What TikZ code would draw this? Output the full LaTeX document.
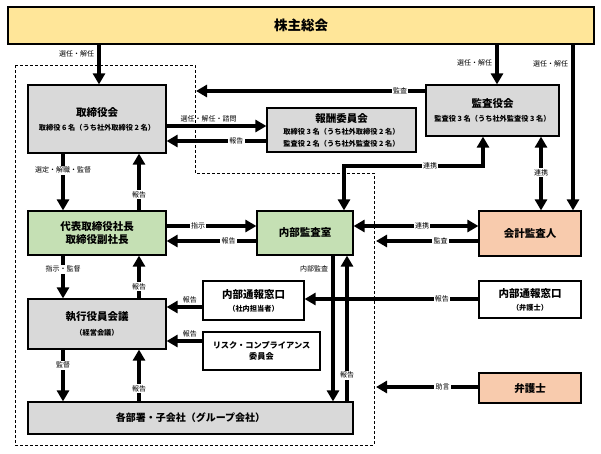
\documentclass[tikz,border=0pt]{standalone}
\usepackage{fontspec}
\setmainfont{Noto Sans CJK JP}
\usetikzlibrary{arrows.meta}
\definecolor{yel}{HTML}{FFE699}
\definecolor{gry}{HTML}{D9D9D9}
\definecolor{grn}{HTML}{C5E0B4}
\definecolor{pch}{HTML}{F8CBAD}
\newcommand{\fT}{\fontsize{10.5}{13}\selectfont\bfseries}
\newcommand{\fS}{\fontsize{7.2}{9.5}\selectfont\bfseries}
\begin{document}
\begin{tikzpicture}[x=1pt,y=-1pt,
 box/.style={draw=black,line width=1.2pt,align=center,inner sep=0pt},
 arr/.style={line width=4pt,-{Triangle[length=11pt,width=12pt]}},
 darr/.style={line width=4pt,{Triangle[length=11pt,width=12pt]}-{Triangle[length=11pt,width=12pt]}},
 lbl/.style={fill=white,inner sep=1.2pt,font=\fontsize{7}{8}\selectfont},
 tlbl/.style={inner sep=1pt,font=\fontsize{7}{8}\selectfont}]
\fill[white] (0,0) rectangle (601,453);
\useasboundingbox (0,0) rectangle (601,453);
% dashed boundary
\draw[line width=0.9pt,dash pattern=on 3pt off 2pt] (15,65) -- (195,65) -- (195,173) -- (374,173) -- (374,445) -- (15,445) -- cycle;
% nodes
\node[box,fill=yel,minimum width=586pt,minimum height=37pt] (sh) at (301,25.5) {\fontsize{13.5}{15}\selectfont\bfseries 株主総会};
\node[box,fill=gry,minimum width=138pt,minimum height=68pt] (tk) at (97,119) {\fT 取締役会\\[2pt]\fS 取締役 6 名（うち社外取締役 2 名）};
\node[box,fill=gry,minimum width=149pt,minimum height=44pt] (hs) at (341.5,130) {\fT 報酬委員会\\\fS 取締役 3 名（うち社外取締役 2 名）\\\fS 監査役 2 名（うち社外監査役 2 名）};
\node[box,fill=gry,minimum width=133pt,minimum height=51pt] (ka) at (492.5,110.5) {\fT 監査役会\\[2pt]\fS 監査役 3 名（うち社外監査役 3 名）};
\node[box,fill=grn,minimum width=138pt,minimum height=44pt,font=\fT] (dh) at (97,233) {代表取締役社長\\取締役副社長};
\node[box,fill=grn,minimum width=96pt,minimum height=44pt] (nb) at (305,233) {\fT 内部監査室};
\node[box,fill=pch,minimum width=102pt,minimum height=45pt] (kk) at (530,233.5) {\fT 会計監査人};
\node[box,fill=gry,minimum width=138pt,minimum height=50pt] (sy) at (97,324) {\fT 執行役員会議\\[3pt]\fS （経営会議）};
\node[box,fill=white,minimum width=101pt,minimum height=39pt] (nt) at (253.5,300.5) {\fT 内部通報窓口\\[1pt]\fS （社内担当者）};
\node[box,fill=white,minimum width=117pt,minimum height=38pt,font={\fontsize{8.2}{11}\selectfont\bfseries}] (rc) at (261.5,351) {リスク・コンプライアンス\\委員会};
\node[box,fill=white,minimum width=102pt,minimum height=37pt] (nl) at (530,299.5) {\fT 内部通報窓口\\[1pt]\fS （弁護士）};
\node[box,fill=pch,minimum width=102pt,minimum height=30pt] (bg) at (530,388) {\fT 弁護士};
\node[box,fill=gry,minimum width=325pt,minimum height=32pt] (kb) at (190.5,418) {\fontsize{10}{12}\selectfont\bfseries 各部署・子会社（グループ会社）};
% helper coordinates
\coordinate (xA) at (63,0);
\coordinate (xB) at (139,0);
\coordinate (xC) at (99,0);
\coordinate (xD) at (497,0);
\coordinate (xE) at (573,0);
\coordinate (xG) at (541,0);
\coordinate (xH) at (333,0);
\coordinate (xI) at (347,0);
\coordinate (y91) at (0,91);
\coordinate (y126) at (0,126);
\coordinate (y141) at (0,141);
\coordinate (y226) at (0,226);
\coordinate (y241) at (0,241);
\coordinate (y299) at (0,299);
\coordinate (y307) at (0,307);
\coordinate (y341) at (0,341);
\coordinate (y387) at (0,387);
\coordinate (bd1) at (196,91);
\coordinate (bd2) at (376,241);
\coordinate (bd3) at (376,387);
\coordinate (j1) at (483,166);
\coordinate (j2) at (344,166);
% connectors
\draw[arr] (sh.south -| xC) -- node[tlbl,pos=0.24,left=2pt]{選任・解任} (tk.north -| xC);
\draw[arr] (sh.south -| xD) -- node[tlbl,pos=0.46,left=2pt]{選任・解任} (ka.north -| xD);
\draw[arr] (sh.south -| xE) -- node[tlbl,pos=0.114,left=2pt]{選任・解任} (kk.north -| xE);
\draw[arr] (ka.west |- y91) -- node[lbl,pos=0.11]{監査} (bd1);
\draw[arr] (tk.east |- y126) -- node[tlbl,pos=0.42,above=1pt]{選任・解任・諮問} (hs.west |- y126);
\draw[arr] (hs.west |- y141) -- node[lbl,pos=0.3]{報告} (tk.east |- y141);
\draw[arr] (tk.south -| xA) -- node[lbl,pos=0.29]{選定・解職・監督} (dh.north -| xA);
\draw[arr] (dh.north -| xB) -- node[lbl,pos=0.28]{報告} (tk.south -| xB);
\draw[arr] (dh.east |- y226) -- node[lbl,pos=0.35]{指示} (nb.west |- y226);
\draw[arr] (nb.west |- y241) -- node[lbl,pos=0.31]{報告} (dh.east |- y241);
\draw[arr] (dh.south -| xA) -- node[lbl,pos=0.32]{指示・監督} (sy.north -| xA);
\draw[arr] (sy.north -| xB) -- node[lbl,pos=0.27]{報告} (dh.south -| xB);
\draw[darr] (ka.south -| j1) -- (j1) -- node[lbl,pos=0.38]{連携} (j2) -- (nb.north -| j2);
\draw[darr] (ka.south -| xG) -- node[lbl,pos=0.49]{連携} (kk.north -| xG);
\draw[darr] (nb.east |- y226) -- node[lbl,pos=0.55]{連携} (kk.west |- y226);
\draw[arr] (kk.west |- y241) -- node[lbl,pos=0.37]{監査} (bd2);
\draw[arr] (nb.south -| xH) -- node[tlbl,pos=0.09,left=2pt]{内部監査} (kb.north -| xH);
\draw[arr] (kb.north -| xI) -- node[lbl,pos=0.18]{報告} (nb.south -| xI);
\draw[arr] (nl.west |- y299) -- node[lbl,pos=0.21]{報告} (nt.east |- y299);
\draw[arr] (nt.west |- y307) -- node[tlbl,pos=0.35,above=1pt]{報告} (sy.east |- y307);
\draw[arr] (rc.west |- y341) -- node[tlbl,pos=0.35,above=1pt]{報告} (sy.east |- y341);
\draw[arr] (sy.south -| xA) -- node[lbl,pos=0.3]{監督} (kb.north -| xA);
\draw[arr] (kb.north -| xB) -- node[lbl,pos=0.25]{報告} (sy.south -| xB);
\draw[arr] (bg.west |- y387) -- node[lbl,pos=0.35]{助言} (bd3);
\end{tikzpicture}
\end{document}
